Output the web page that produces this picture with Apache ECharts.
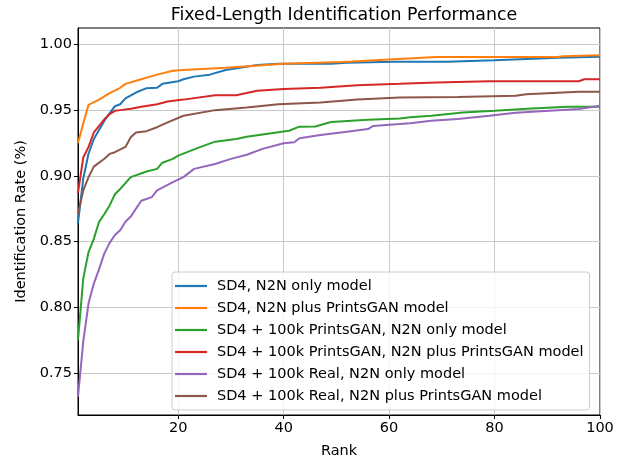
<!DOCTYPE html>
<html>
<head>
<meta charset="utf-8">
<script src="https://cdn.jsdelivr.net/npm/echarts@6/dist/echarts.min.js"></script>
<style>html,body{margin:0;padding:0;background:#fff;}#c{width:620px;height:464px;}</style>
</head>
<body>
<div id="c"></div>
<script>
// [rank, identification rate] readings
const sd4N2N = [[1,0.864],[2,0.898],[3,0.917],[4,0.928],[6,0.942],[8,0.953],[9,0.9545],[10,0.959],[12,0.9634],[14,0.9667],[16,0.967],[17,0.970],[20,0.972],[21,0.9735],[23,0.9755],[26,0.977],[29,0.9805],[35,0.9843],[39,0.9853],[49,0.9853],[52,0.986],[61,0.9869],[71,0.9869],[80,0.9879],[92,0.9899],[100,0.9907]];
const sd4N2NPlus = [[1,0.925],[2,0.940],[3,0.954],[5,0.958],[7,0.963],[9,0.967],[10,0.970],[13,0.9735],[16,0.977],[19,0.980],[21,0.9805],[29,0.9823],[40,0.9853],[51,0.9866],[53,0.987],[60,0.9886],[69,0.9904],[92,0.9904],[93,0.991],[100,0.9917]];
const pganN2N = [[1,0.775],[2,0.822],[3,0.842],[4,0.852],[5,0.865],[6,0.871],[7,0.8775],[8,0.886],[9,0.890],[11,0.899],[14,0.9033],[16,0.9053],[17,0.910],[19,0.9129],[20,0.9154],[24,0.9217],[27,0.926],[31,0.928],[33,0.9298],[38,0.9326],[41,0.9343],[43,0.9374],[46,0.9376],[49,0.941],[56,0.9427],[62,0.9437],[64,0.9445],[68,0.9457],[74,0.9482],[80,0.9495],[87,0.9513],[94,0.9525],[100,0.9525]];
const pganN2NPlus = [[1,0.887],[2,0.914],[3,0.922],[4,0.933],[5,0.938],[6,0.943],[7,0.947],[8,0.9495],[9,0.950],[11,0.951],[13,0.9525],[16,0.9545],[18,0.9566],[21,0.958],[27,0.9614],[31,0.9614],[35,0.9647],[40,0.966],[47,0.967],[54,0.969],[62,0.970],[69,0.971],[79,0.972],[96,0.972],[97,0.9735],[100,0.9735]];
const realN2N = [[1,0.732],[2,0.774],[3,0.803],[4,0.818],[5,0.829],[6,0.841],[7,0.849],[8,0.855],[9,0.8586],[10,0.865],[11,0.869],[13,0.881],[15,0.8838],[16,0.8889],[19,0.8952],[21,0.899],[23,0.9053],[27,0.909],[30,0.9129],[33,0.916],[36,0.9205],[40,0.9248],[42,0.9255],[43,0.9286],[47,0.931],[52,0.9336],[56,0.9356],[57,0.938],[62,0.9394],[64,0.940],[68,0.942],[73,0.9432],[79,0.9457],[84,0.948],[92,0.950],[96,0.9508],[100,0.9533]];
const realN2NPlus = [[1,0.871],[2,0.889],[3,0.899],[4,0.907],[6,0.913],[7,0.9167],[8,0.918],[10,0.922],[11,0.9293],[12,0.933],[14,0.934],[16,0.937],[18,0.9407],[21,0.9457],[27,0.950],[33,0.952],[39,0.9545],[47,0.9558],[54,0.958],[62,0.9596],[73,0.960],[84,0.961],[86,0.962],[96,0.9639],[100,0.9639]];

const seriesNames = [
  'SD4, N2N only model',
  'SD4, N2N plus PrintsGAN model',
  'SD4 + 100k PrintsGAN, N2N only model',
  'SD4 + 100k PrintsGAN, N2N plus PrintsGAN model',
  'SD4 + 100k Real, N2N only model',
  'SD4 + 100k Real, N2N plus PrintsGAN model'
];
const seriesData = [sd4N2N, sd4N2NPlus, pganN2N, pganN2NPlus, realN2N, realN2NPlus];
const colors = ['#1f77b4','#ff7f0e','#2ca02c','#d62728','#9467bd','#8c564b'];
const xTicks = [20, 40, 60, 80, 100];
const yTicks = [0.75, 0.80, 0.85, 0.90, 0.95, 1.00];

const font = 'DejaVu Sans';
const fs = 14.5;
const chart = echarts.init(document.getElementById('c'), null, {renderer: 'canvas'});
chart.setOption({
  animation: false,
  backgroundColor: '#fff',
  color: colors,
  title: {
    text: 'Fixed-Length Identification Performance',
    left: 339, top: 2, textAlign: 'center',
    textStyle: {fontFamily: font, fontSize: 17.4, fontWeight: 'normal', color: '#000'}
  },
  grid: {left: 78, right: 20, top: 28, bottom: 47, show: true, borderColor: '#000', borderWidth: 1, backgroundColor: 'transparent'},
  legend: {
    orient: 'vertical', left: 172, top: 272,
    itemWidth: 32, itemHeight: 14, itemGap: 6,
    icon: 'path://M0,0L32,0L32,2.2L0,2.2Z',
    padding: [6, 6, 6, 3],
    backgroundColor: 'rgba(255,255,255,0.8)', borderColor: '#cccccc', borderWidth: 1, borderRadius: 3,
    textStyle: {fontFamily: font, fontSize: fs, color: '#000', lineHeight: 16, padding: [0, 0, 0, 5]},
    data: seriesNames
  },
  xAxis: {
    type: 'value', min: 1, max: 100,
    name: 'Rank', nameLocation: 'middle', nameGap: 29,
    nameTextStyle: {fontFamily: font, fontSize: fs, color: '#000'},
    axisLine: {show: true, onZero: false, lineStyle: {color: '#000'}},
    axisTick: {show: true, length: 4, customValues: xTicks, lineStyle: {color: '#000'}},
    axisLabel: {customValues: xTicks, fontFamily: font, fontSize: fs, color: '#000', margin: 6},
    splitLine: {show: true, lineStyle: {color: '#c8c8c8', width: 1}}
  },
  yAxis: {
    type: 'value', min: 0.718, max: 1.0125,
    name: 'Identification Rate (%)', nameLocation: 'middle', nameGap: 47,
    nameTextStyle: {fontFamily: font, fontSize: fs, color: '#000'},
    axisLine: {show: true, onZero: false, lineStyle: {color: '#000'}},
    axisTick: {show: true, length: 4, customValues: yTicks, lineStyle: {color: '#000'}},
    axisLabel: {customValues: yTicks, fontFamily: font, fontSize: fs, color: '#000', margin: 6,
      formatter: v => v.toFixed(2)},
    splitLine: {show: true, lineStyle: {color: '#c8c8c8', width: 1}}
  },
  series: seriesData.map((d, i) => ({
    name: seriesNames[i], type: 'line', data: d,
    symbol: 'none', showSymbol: false,
    lineStyle: {width: 2, color: colors[i]},
    itemStyle: {color: colors[i]}
  }))
});
</script>
</body>
</html>
